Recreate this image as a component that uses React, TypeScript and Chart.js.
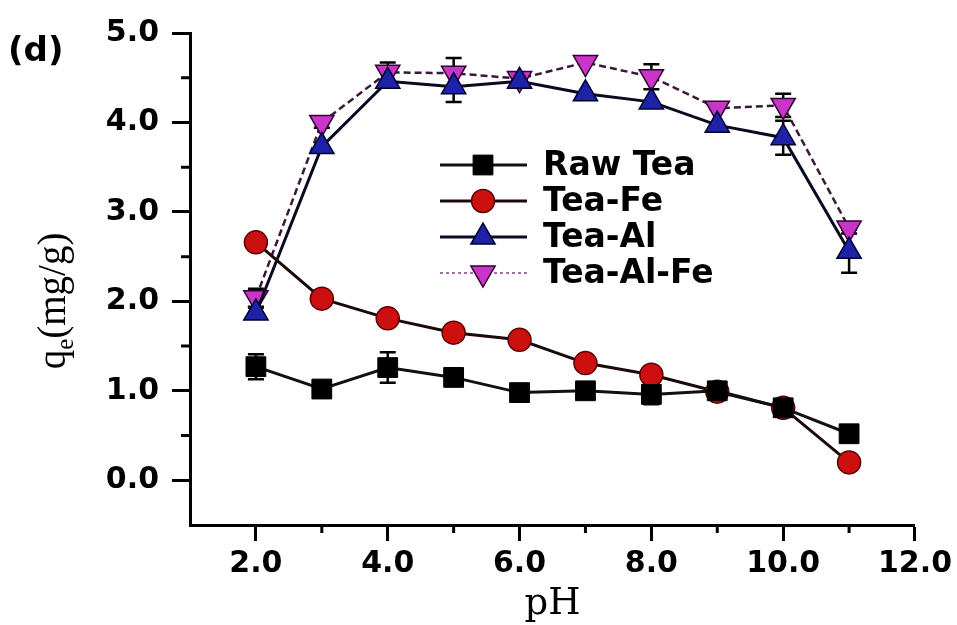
import React, { useEffect, useRef } from 'react';
import { Chart, registerables } from 'chart.js';
import { drawPoint } from 'chart.js/helpers';

Chart.register(...registerables);

// ---- data ----
const pH = [2, 3, 4, 5, 6, 7, 8, 9, 10, 11];
const seriesNames = ['Raw Tea', 'Tea-Fe', 'Tea-Al', 'Tea-Al-Fe'];
const rawTea = [1.27, 1.02, 1.26, 1.15, 0.98, 1.0, 0.96, 1.0, 0.81, 0.52];
const rawTeaErr = [0.14, 0, 0.17, 0, 0, 0, 0.11, 0, 0, 0];
const teaFe = [2.66, 2.03, 1.81, 1.65, 1.57, 1.31, 1.18, 0.99, 0.81, 0.2];
const teaFeErr = [0, 0, 0, 0, 0, 0, 0, 0, 0, 0.07];
const teaAl = [1.87, 3.73, 4.46, 4.4, 4.46, 4.32, 4.23, 3.97, 3.83, 2.56];
const teaAlErr = [0.06, 0, 0, 0.17, 0, 0, 0, 0, 0.19, 0.24];
const teaAlFe = [2.04, 4.0, 4.56, 4.55, 4.49, 4.67, 4.51, 4.16, 4.19, 2.82];
const teaAlFeErr = [0.1, 0.06, 0.11, 0.17, 0, 0, 0.14, 0, 0.13, 0.06];
const xMajorTicks = [2, 4, 6, 8, 10, 12];
const xMinorTicks = [3, 5, 7, 9, 11];
const yMajorTicks = [0, 1, 2, 3, 4, 5];
const yMinorTicks = [0.5, 1.5, 2.5, 3.5, 4.5];
const xTitle = 'pH';
const yTitleMain = 'q';
const yTitleSub = 'e';
const yTitleRest = '(mg/g)';
const panelLabel = '(d)';

const toPoints = (ys: number[]) => ys.map((y, i) => ({ x: pH[i], y }));

const errorBarPlugin = {
  id: 'errorBars',
  beforeDatasetsDraw(chart: any) {
    const { ctx } = chart;
    const xs = chart.scales.x;
    const ys = chart.scales.y;
    chart.data.datasets.forEach((ds: any) => {
      const errs: number[] = ds.errors || [];
      ctx.save();
      ctx.strokeStyle = '#000';
      ctx.lineWidth = 2.5;
      ds.data.forEach((p: any, i: number) => {
        const e = errs[i];
        if (!e) return;
        const x = xs.getPixelForValue(p.x);
        const yt = ys.getPixelForValue(p.y + e);
        const yb = ys.getPixelForValue(p.y - e);
        ctx.beginPath();
        ctx.moveTo(x, yt);
        ctx.lineTo(x, yb);
        ctx.moveTo(x - 8, yt);
        ctx.lineTo(x + 8, yt);
        ctx.moveTo(x - 8, yb);
        ctx.lineTo(x + 8, yb);
        ctx.stroke();
      });
      ctx.restore();
    });
  },
};

const decorPlugin = {
  id: 'decor',
  afterDraw(chart: any) {
    const { ctx } = chart;
    const xs = chart.scales.x;
    const ys = chart.scales.y;
    ctx.save();
    // minor ticks
    ctx.strokeStyle = '#000';
    ctx.lineWidth = 3;
    ctx.beginPath();
    xMinorTicks.forEach((v) => {
      const x = xs.getPixelForValue(v);
      ctx.moveTo(x, xs.top);
      ctx.lineTo(x, xs.top + 8);
    });
    yMinorTicks.forEach((v) => {
      const y = ys.getPixelForValue(v);
      ctx.moveTo(ys.right, y);
      ctx.lineTo(ys.right - 9, y);
    });
    ctx.stroke();

    // panel label
    ctx.fillStyle = '#000';
    ctx.font = 'bold 34px "DejaVu Sans"';
    ctx.textAlign = 'left';
    ctx.textBaseline = 'middle';
    ctx.fillText(panelLabel, 8, 52);

    // y axis title (rotated, with subscript)
    ctx.save();
    ctx.translate(57, 301);
    ctx.rotate(-Math.PI / 2);
    const mainFont = '39px "Liberation Serif"';
    const subFont = '25px "Liberation Serif"';
    ctx.font = mainFont;
    const wq = ctx.measureText(yTitleMain).width;
    const wr = ctx.measureText(yTitleRest).width;
    ctx.font = subFont;
    const we = ctx.measureText(yTitleSub).width;
    const total = wq + we + wr;
    let cx = -total / 2;
    ctx.textBaseline = 'alphabetic';
    ctx.textAlign = 'left';
    ctx.font = mainFont;
    ctx.fillText(yTitleMain, cx, 8);
    cx += wq;
    ctx.font = subFont;
    ctx.fillText(yTitleSub, cx, 16);
    cx += we;
    ctx.font = mainFont;
    ctx.fillText(yTitleRest, cx, 8);
    ctx.restore();

    // legend
    const lx0 = 440;
    const lx1 = 527;
    const mx = 483;
    const ly0 = 165;
    const dy = 36;
    chart.data.datasets.forEach((ds: any, i: number) => {
      const y = ly0 + i * dy;
      ctx.save();
      ctx.strokeStyle = ds.legendLineColor || ds.borderColor;
      ctx.lineWidth = ds.legendLineWidth || 3;
      ctx.setLineDash(ds.legendDash || []);
      ctx.beginPath();
      ctx.moveTo(lx0, y);
      ctx.lineTo(lx1, y);
      ctx.stroke();
      ctx.setLineDash([]);
      ctx.fillStyle = ds.pointBackgroundColor;
      ctx.strokeStyle = ds.pointBorderColor;
      ctx.lineWidth = ds.pointBorderWidth;
      drawPoint(ctx, {
        pointStyle: ds.pointStyle,
        rotation: ds.pointRotation || 0,
        radius: ds.pointRadius,
        borderWidth: ds.pointBorderWidth,
      } as any, mx, y);
      ctx.fillStyle = '#000';
      ctx.font = 'bold 33px "DejaVu Sans"';
      ctx.textAlign = 'left';
      ctx.textBaseline = 'middle';
      ctx.fillText(ds.label, 543, y + 1);
      ctx.restore();
    });
    ctx.restore();
  },
};

export default function App() {
  const ref = useRef<HTMLCanvasElement | null>(null);

  useEffect(() => {
    if (!ref.current) return;
    const tickFont = { family: '"DejaVu Sans"', size: 30, weight: 'bold' as const };
    const chart = new Chart(ref.current, {
      type: 'line',
      data: {
        datasets: [
          {
            label: seriesNames[0],
            data: toPoints(rawTea),
            errors: rawTeaErr,
            borderColor: '#111',
            borderWidth: 3,
            pointStyle: 'rect',
            pointRadius: 14,
            pointBackgroundColor: '#000',
            pointBorderColor: '#000',
            pointBorderWidth: 1,
            tension: 0,
          } as any,
          {
            label: seriesNames[1],
            data: toPoints(teaFe),
            errors: teaFeErr,
            borderColor: '#1a0a0a',
            borderWidth: 3,
            pointStyle: 'circle',
            pointRadius: 11.5,
            pointBackgroundColor: '#cc1010',
            pointBorderColor: '#5a0000',
            pointBorderWidth: 1.5,
            tension: 0,
          } as any,
          {
            label: seriesNames[2],
            data: toPoints(teaAl),
            errors: teaAlErr,
            borderColor: '#0a0a20',
            borderWidth: 3,
            pointStyle: 'triangle',
            pointRadius: 14,
            pointBackgroundColor: '#1e22a6',
            pointBorderColor: '#000030',
            pointBorderWidth: 1.5,
            tension: 0,
          } as any,
          {
            label: seriesNames[3],
            data: toPoints(teaAlFe),
            errors: teaAlFeErr,
            borderColor: '#3a1838',
            borderWidth: 2.5,
            borderDash: [7, 4],
            legendLineColor: '#a070a0',
            legendLineWidth: 2,
            legendDash: [3, 3],
            pointStyle: 'triangle',
            pointRotation: 180,
            pointRadius: 14,
            pointBackgroundColor: '#c835c8',
            pointBorderColor: '#300030',
            pointBorderWidth: 1.5,
            tension: 0,
          } as any,
        ],
      },
      options: {
        responsive: false,
        animation: false,
        layout: { padding: { top: 33, right: 41, bottom: 0, left: 0 } },
        plugins: {
          legend: { display: false },
          tooltip: { enabled: false },
        },
        scales: {
          x: {
            type: 'linear',
            min: 1,
            max: 12,
            afterFit: (s: any) => {
              s.height = 100;
            },
            afterBuildTicks: (s: any) => {
              s.ticks = xMajorTicks.map((v) => ({ value: v }));
            },
            grid: {
              drawOnChartArea: false,
              drawTicks: true,
              tickLength: 16,
              tickWidth: 3,
              tickColor: '#000',
            },
            border: { display: true, color: '#000', width: 3 },
            ticks: {
              color: '#000',
              font: tickFont,
              padding: 5,
              maxRotation: 0,
              autoSkip: false,
              callback: (v: any) => Number(v).toFixed(1),
            },
            title: {
              display: true,
              text: xTitle,
              color: '#000',
              font: { family: '"DejaVu Serif"', size: 37 },
              padding: { top: 0, bottom: -2 },
            },
          },
          y: {
            type: 'linear',
            min: -0.5,
            max: 5,
            afterFit: (s: any) => {
              s.width = 190;
            },
            afterBuildTicks: (s: any) => {
              s.ticks = yMajorTicks.map((v) => ({ value: v }));
            },
            grid: {
              drawOnChartArea: false,
              drawTicks: true,
              tickLength: 18,
              tickWidth: 3,
              tickColor: '#000',
            },
            border: { display: true, color: '#000', width: 3 },
            ticks: {
              color: '#000',
              font: tickFont,
              padding: 13,
              autoSkip: false,
              callback: (v: any) => Number(v).toFixed(1),
            },
          },
        },
      } as any,
      plugins: [errorBarPlugin, decorPlugin],
    });
    return () => chart.destroy();
  }, []);

  return (
    <div style={{ position: 'fixed', left: 0, top: 0, width: 957, height: 625, background: '#fff' }}>
      <canvas ref={ref} width={957} height={625} style={{ display: 'block' }} />
    </div>
  );
}
